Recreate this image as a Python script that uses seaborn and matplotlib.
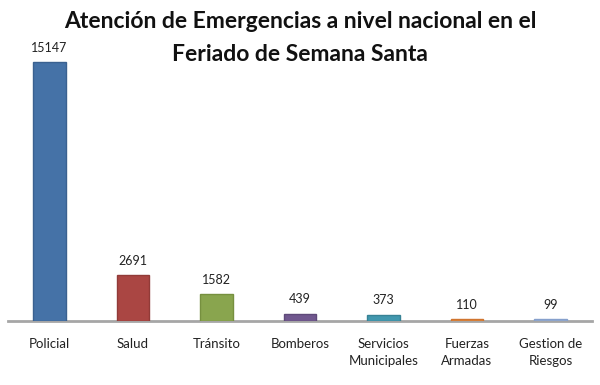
import matplotlib
matplotlib.use("Agg")
import matplotlib.pyplot as plt
import seaborn as sns
import pandas as pd

# --- Data ---
categorias = ["Policial", "Salud", "Tránsito", "Bomberos",
              "Servicios\nMunicipales", "Fuerzas\nArmadas", "Gestion de\nRiesgos"]
atenciones = [15147, 2691, 1582, 439, 373, 110, 99]
colores = ["#4572A7", "#AA4643", "#89A54E", "#71588F", "#4198AF", "#DB843D", "#93A9CF"]
bordes = ["#3A6190", "#913B38", "#76903F", "#5F4A7A", "#378295", "#D0752F", "#86A0CC"]
titulo = ["Atención de Emergencias a nivel nacional en el", "Feriado de Semana Santa"]

df = pd.DataFrame({"categoria": categorias, "atenciones": atenciones})

sns.set_style("white")
plt.rcParams['font.family'] = ['Lato', 'DejaVu Sans']

fig = plt.figure(figsize=(6, 3.85), dpi=100)
ax = fig.add_axes([0.013, 0.166, 0.974, 0.71])

sns.barplot(data=df, x="categoria", y="atenciones", hue="categoria",
            palette=colores, saturation=1, legend=False, width=0.39, ax=ax)

for patch, ec in zip(ax.patches, bordes):
    patch.set_edgecolor(ec)
    patch.set_linewidth(1.0)
    patch.set_zorder(3)

for cont in ax.containers:
    ax.bar_label(cont, fmt="%d", padding=6, fontsize=9, color="#222222")

ax.set_ylim(0, 16000)
ax.set_xlim(-0.5, len(categorias) - 0.5)
ax.set_yticks([])
ax.set_xlabel("")
ax.set_ylabel("")
ax.tick_params(axis="x", length=0, pad=12, labelsize=9.5, colors="#222222")
for lbl in ax.get_xticklabels():
    lbl.set_linespacing(1.55)
for side in ["top", "left", "right"]:
    ax.spines[side].set_visible(False)
ax.spines["bottom"].set_color("#A6A6A6")
ax.spines["bottom"].set_linewidth(2)
ax.spines["bottom"].set_zorder(2)

# title as two lines so each line keeps its own box
for linea, y in zip(titulo, [0.943, 0.858]):
    fig.text(0.5, y, linea, ha="center", va="center", fontsize=16.5,
             fontweight="bold", color="#111111")

fig.savefig("out.png", dpi=100)
